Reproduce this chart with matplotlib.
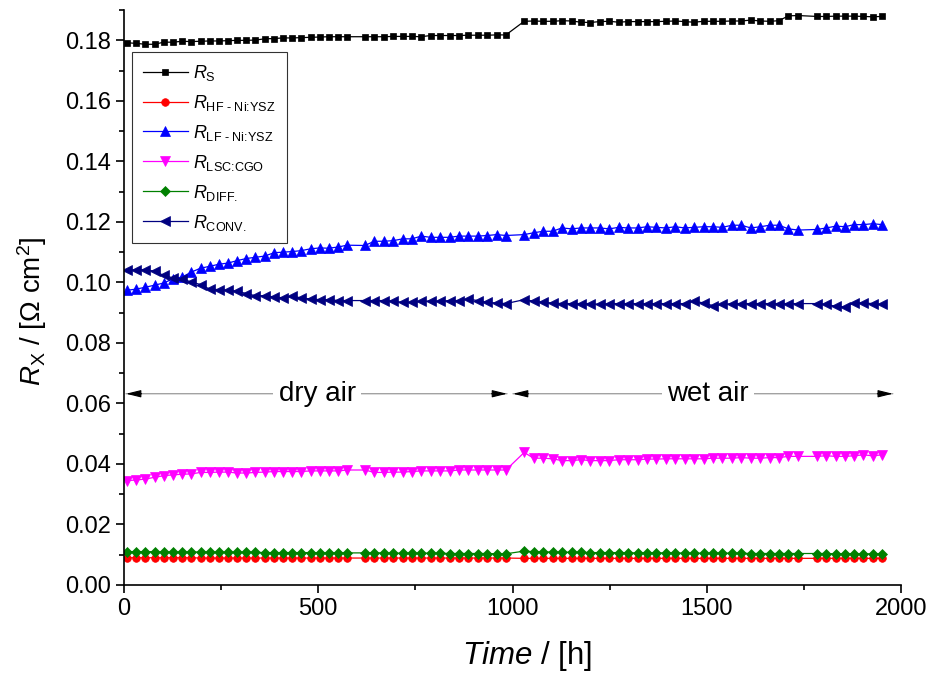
import matplotlib
matplotlib.use("Agg")
import matplotlib.pyplot as plt
import numpy as np

plt.rcParams['font.family'] = ['Liberation Sans', 'DejaVu Sans']
plt.rcParams['mathtext.fontset'] = 'custom'
plt.rcParams['mathtext.rm'] = 'Liberation Sans'
plt.rcParams['mathtext.it'] = 'Liberation Sans:italic'
plt.rcParams['mathtext.bf'] = 'Liberation Sans:bold'

# ---------------- data ----------------
time_h = [8, 32, 55, 79, 102, 126, 150, 173, 197, 220, 244, 268, 291, 315, 338, 362, 386, 409, 433, 456, 480, 504, 527, 551, 574,
          620, 644, 668, 693, 717, 741, 765, 789, 814, 838, 862, 886, 910, 935, 959, 983,
          1030, 1054, 1079, 1103, 1127, 1152, 1176, 1200, 1224, 1249, 1273, 1297, 1322, 1346, 1370, 1395, 1419, 1443, 1467, 1492,
          1516, 1540, 1565, 1589, 1613, 1638, 1662, 1686, 1710, 1735,
          1784, 1808, 1832, 1856, 1879, 1903, 1927, 1951]

r_s = [0.1792, 0.1790, 0.1787, 0.1787, 0.1794, 0.1794, 0.1797, 0.1796, 0.1797, 0.1798, 0.1798, 0.1799, 0.1800, 0.1800, 0.1801, 0.1805, 0.1806, 0.1808, 0.1808, 0.1809, 0.1810, 0.1811, 0.1812, 0.1812, 0.1812,
       0.1812, 0.1812, 0.1812, 0.1813, 0.1813, 0.1813, 0.1812, 0.1816, 0.1816, 0.1816, 0.1816, 0.1817, 0.1817, 0.1817, 0.1818, 0.1818,
       0.1863, 0.1864, 0.1863, 0.1863, 0.1865, 0.1864, 0.1860, 0.1859, 0.1862, 0.1863, 0.1860, 0.1862, 0.1862, 0.1862, 0.1862,
       0.1863, 0.1864, 0.1862, 0.1860, 0.1863, 0.1863, 0.1863, 0.1864, 0.1864, 0.1867, 0.1864, 0.1863, 0.1865, 0.1881, 0.1882,
       0.1879, 0.1879, 0.1880, 0.1880, 0.1880, 0.1879, 0.1878, 0.1879]

r_hf = [0.0090, 0.0090, 0.0090, 0.0090, 0.0090, 0.0090, 0.0090, 0.0090, 0.0089, 0.0089, 0.0089, 0.0089, 0.0089, 0.0089, 0.0089, 0.0089, 0.0089, 0.0089, 0.0089, 0.0089, 0.0089, 0.0089, 0.0089, 0.0089, 0.0089,
        0.0089, 0.0089, 0.0089, 0.0089, 0.0089, 0.0089, 0.0089, 0.0089, 0.0089, 0.0089, 0.0089, 0.0089, 0.0089, 0.0089, 0.0089, 0.0089,
        0.0088, 0.0088, 0.0088, 0.0088, 0.0088, 0.0088, 0.0088, 0.0088, 0.0088, 0.0088, 0.0088, 0.0088, 0.0088, 0.0088, 0.0088,
        0.0088, 0.0088, 0.0088, 0.0088, 0.0088, 0.0088, 0.0088, 0.0088, 0.0088, 0.0088, 0.0088, 0.0088, 0.0088, 0.0088, 0.0088,
        0.0088, 0.0088, 0.0088, 0.0088, 0.0088, 0.0088, 0.0088, 0.0088]

r_lf = [0.0974, 0.0978, 0.0984, 0.0991, 0.0998, 0.1012, 0.1018, 0.1034, 0.1047, 0.1053, 0.1060, 0.1064, 0.1072, 0.1079, 0.1083, 0.1087, 0.1098, 0.1100, 0.1102, 0.1105, 0.1111, 0.1114, 0.1113, 0.1117, 0.1123,
        0.1122, 0.1136, 0.1136, 0.1138, 0.1144, 0.1144, 0.1153, 0.1149, 0.1149, 0.1149, 0.1153, 0.1153, 0.1153, 0.1155, 0.1158, 0.1155,
        0.1158, 0.1164, 0.1169, 0.1169, 0.1180, 0.1177, 0.1180, 0.1180, 0.1180, 0.1177, 0.1182, 0.1180, 0.1180, 0.1184, 0.1182,
        0.1180, 0.1184, 0.1180, 0.1182, 0.1184, 0.1184, 0.1182, 0.1189, 0.1189, 0.1180, 0.1184, 0.1189, 0.1189, 0.1177, 0.1173,
        0.1175, 0.1180, 0.1186, 0.1184, 0.1191, 0.1191, 0.1194, 0.1191]

r_lsc = [0.0345, 0.0347, 0.0350, 0.0356, 0.0361, 0.0364, 0.0366, 0.0367, 0.0372, 0.0372, 0.0373, 0.0373, 0.0370, 0.0370, 0.0372, 0.0373, 0.0375, 0.0375, 0.0375, 0.0375, 0.0377, 0.0377, 0.0377, 0.0377, 0.0380,
         0.0380, 0.0372, 0.0372, 0.0373, 0.0373, 0.0375, 0.0377, 0.0377, 0.0377, 0.0377, 0.0380, 0.0380, 0.0380, 0.0380, 0.0380, 0.0380,
         0.0438, 0.0419, 0.0419, 0.0417, 0.0411, 0.0411, 0.0414, 0.0411, 0.0411, 0.0411, 0.0414, 0.0414, 0.0414, 0.0416, 0.0416,
         0.0417, 0.0417, 0.0417, 0.0417, 0.0417, 0.0419, 0.0419, 0.0419, 0.0421, 0.0419, 0.0419, 0.0421, 0.0421, 0.0425, 0.0425,
         0.0425, 0.0427, 0.0425, 0.0425, 0.0427, 0.0430, 0.0427, 0.0430]

r_diff = [0.0110, 0.0110, 0.0110, 0.0110, 0.0109, 0.0109, 0.0109, 0.0109, 0.0109, 0.0109, 0.0108, 0.0108, 0.0108, 0.0108, 0.0108, 0.0107, 0.0107, 0.0107, 0.0107, 0.0107, 0.0107, 0.0106, 0.0106, 0.0106, 0.0106,
          0.0106, 0.0106, 0.0106, 0.0105, 0.0105, 0.0105, 0.0105, 0.0105, 0.0105, 0.0104, 0.0104, 0.0104, 0.0104, 0.0104, 0.0103, 0.0103,
          0.0112, 0.0110, 0.0109, 0.0109, 0.0108, 0.0108, 0.0108, 0.0107, 0.0107, 0.0107, 0.0107, 0.0106, 0.0106, 0.0106, 0.0106,
          0.0106, 0.0106, 0.0105, 0.0105, 0.0105, 0.0105, 0.0105, 0.0105, 0.0105, 0.0104, 0.0104, 0.0104, 0.0104, 0.0104, 0.0104,
          0.0104, 0.0104, 0.0103, 0.0103, 0.0103, 0.0103, 0.0103, 0.0103]

r_conv = [0.1040, 0.1042, 0.1042, 0.1037, 0.1023, 0.1015, 0.1012, 0.1001, 0.0993, 0.0978, 0.0976, 0.0974, 0.0971, 0.0963, 0.0956, 0.0956, 0.0952, 0.0949, 0.0954, 0.0949, 0.0945, 0.0943, 0.0943, 0.0940, 0.0940,
          0.0940, 0.0940, 0.0940, 0.0938, 0.0934, 0.0934, 0.0938, 0.0938, 0.0938, 0.0940, 0.0940, 0.0945, 0.0940, 0.0934, 0.0932, 0.0930,
          0.0943, 0.0938, 0.0934, 0.0932, 0.0930, 0.0930, 0.0930, 0.0930, 0.0927, 0.0930, 0.0930, 0.0930, 0.0930, 0.0930, 0.0930,
          0.0930, 0.0930, 0.0930, 0.0938, 0.0932, 0.0923, 0.0927, 0.0930, 0.0930, 0.0930, 0.0930, 0.0930, 0.0930, 0.0930, 0.0930,
          0.0930, 0.0927, 0.0921, 0.0919, 0.0932, 0.0932, 0.0930, 0.0927]

series_labels = [r'$R_\text{S}$', r'$R_\text{HF - Ni:YSZ}$', r'$R_\text{LF - Ni:YSZ}$',
                 r'$R_\text{LSC:CGO}$', r'$R_\text{DIFF.}$', r'$R_\text{CONV.}$']
series_values = [r_s, r_hf, r_lf, r_lsc, r_diff, r_conv]
series_colors = ['#000000', '#FF0000', '#0000FF', '#FF00FF', '#008000', '#000080']
series_markers = ['s', 'o', '^', 'v', 'D', '<']
series_msize = [5.0, 5.5, 7.5, 7.5, 5.5, 7.5]

phase_labels = ['dry air', 'wet air']
phase_spans = [(5, 986), (1001, 1979)]
phase_text_x = [497, 1503]
phase_y = 0.0632

# ---------------- figure ----------------
fig = plt.figure(figsize=(9.27, 6.73), dpi=100)
ax = fig.add_axes([0.1338, 0.1308, 0.8382, 0.8542])

for lab, vals, col, mk, ms in zip(series_labels, series_values, series_colors, series_markers, series_msize):
    ax.plot(time_h, vals, color=col, marker=mk, markersize=ms, lw=0.9,
            markeredgewidth=0.5, markeredgecolor=col, label=lab)

ax.set_xlim(0, 2000)
ax.set_ylim(0, 0.19)
ax.set_xticks([0, 500, 1000, 1500, 2000])
ax.set_xticks(np.arange(0, 2001, 250), minor=True)
ax.set_yticks(np.arange(0, 0.181, 0.02))
ax.set_yticks(np.arange(0, 0.191, 0.01), minor=True)
ax.yaxis.set_major_formatter(matplotlib.ticker.FormatStrFormatter('%.2f'))

for s in ['top', 'right']:
    ax.spines[s].set_visible(False)
for s in ['left', 'bottom']:
    ax.spines[s].set_linewidth(1.2)
ax.tick_params(which='major', direction='out', length=6, width=1.2, labelsize=17)
ax.tick_params(which='minor', direction='out', length=3.5, width=1.2)

ax.set_xlabel(r'$\mathit{Time}$ / [h]', fontsize=22.5)
ax.xaxis.set_label_coords(0.519, -0.094)
ax.set_ylabel(r'$R_\text{X}$ / [Ω cm$^2$]', fontsize=20)
ax.yaxis.set_label_coords(-0.096, 0.476)

# phase annotations
for lab, (x0, x1), xt in zip(phase_labels, phase_spans, phase_text_x):
    ax.annotate('', xy=(x0, phase_y), xytext=(x1, phase_y),
                arrowprops=dict(arrowstyle='-', color='0.55', lw=0.8, shrinkA=0, shrinkB=0))
    for xe, xs in [(x0, x0 + 40), (x1, x1 - 40)]:
        ax.annotate('', xy=(xe, phase_y), xytext=(xs, phase_y),
                    arrowprops=dict(arrowstyle='-|>,head_length=0.9,head_width=0.22',
                                    color='black', lw=0.8, shrinkA=0, shrinkB=0, mutation_scale=10))
    ax.text(xt, phase_y, lab, fontsize=20, ha='center', va='center', zorder=5,
            bbox=dict(facecolor='white', edgecolor='none', pad=4))

leg = ax.legend(loc='upper left', bbox_to_anchor=(0.0103, 0.927), borderaxespad=0,
                fontsize=13, frameon=True, fancybox=False, edgecolor='black',
                handlelength=2.5, handletextpad=0.3, labelspacing=0.55, borderpad=0.6)
leg.get_frame().set_linewidth(0.8)

fig.savefig('out.png', dpi=100)
